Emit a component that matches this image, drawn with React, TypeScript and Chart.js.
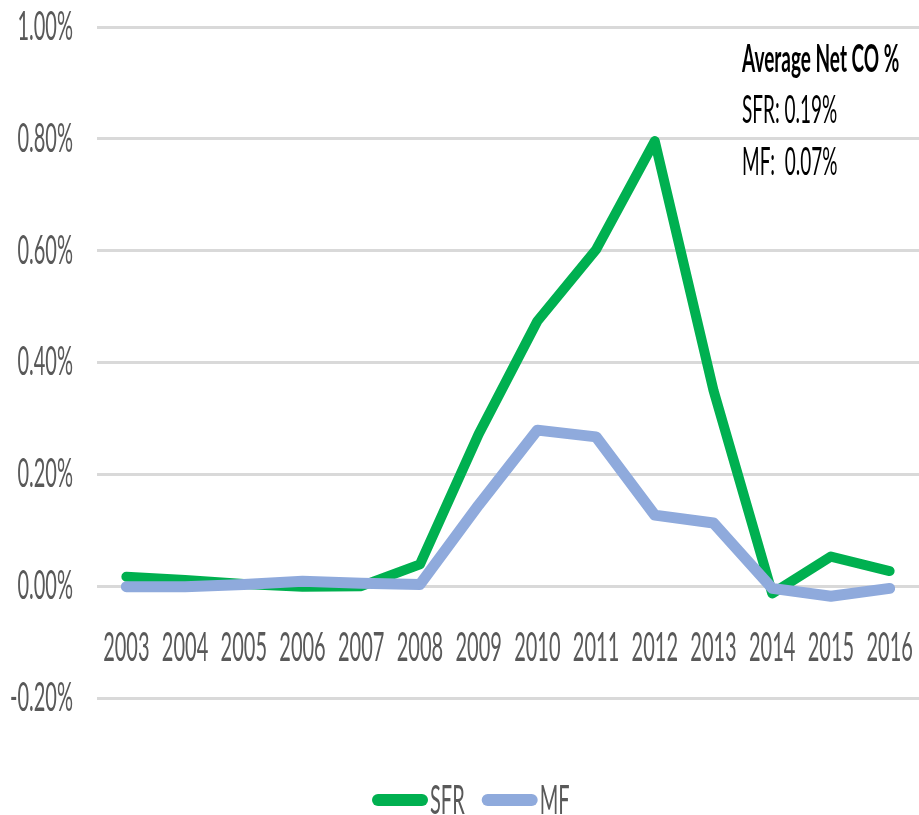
import React, { useEffect, useRef } from 'react';
import { Chart, registerables } from 'chart.js';

Chart.register(...registerables);

const YEARS = ['2003', '2004', '2005', '2006', '2007', '2008', '2009', '2010', '2011', '2012', '2013', '2014', '2015', '2016'];
const SFR_VALUES = [0.017, 0.011, 0.004, -0.001, 0.0, 0.039, 0.272, 0.474, 0.602, 0.796, 0.35, -0.013, 0.053, 0.027];
const MF_VALUES = [-0.001, -0.001, 0.003, 0.009, 0.005, 0.003, 0.145, 0.279, 0.267, 0.127, 0.113, -0.004, -0.018, -0.004];
const SERIES_NAMES = ['SFR', 'MF'];
const Y_MIN = -0.2;
const Y_MAX = 1.0;
const Y_STEP = 0.2;
const NOTE_TITLE = 'Average Net CO %';
const NOTE_LINES = ['SFR: 0.19%', 'MF:  0.07%'];

const TEXT_SQUEEZE = 0.5;
const FONT = 'Lato';
const GREEN = '#00B050';
const BLUE = '#8FAADC';
const GREY_TEXT = '#595959';

function condenseText(ctx: any) {
  const proto: any = CanvasRenderingContext2D.prototype;
  ctx.fillText = function (text: string, x: number, y: number, maxWidth?: number) {
    this.save();
    this.translate(x, y);
    this.scale(TEXT_SQUEEZE, 1);
    if (maxWidth === undefined) proto.fillText.call(this, text, 0, 0);
    else proto.fillText.call(this, text, 0, 0, maxWidth / TEXT_SQUEEZE);
    this.restore();
  };
  ctx.measureText = function (text: string) {
    const m = proto.measureText.call(this, text);
    return {
      width: m.width * TEXT_SQUEEZE,
      actualBoundingBoxAscent: m.actualBoundingBoxAscent,
      actualBoundingBoxDescent: m.actualBoundingBoxDescent,
      actualBoundingBoxLeft: m.actualBoundingBoxLeft * TEXT_SQUEEZE,
      actualBoundingBoxRight: m.actualBoundingBoxRight * TEXT_SQUEEZE,
      fontBoundingBoxAscent: m.fontBoundingBoxAscent,
      fontBoundingBoxDescent: m.fontBoundingBoxDescent,
    };
  };
}

const notesPlugin = {
  id: 'notesAndLegend',
  afterDraw(chart: any) {
    const ctx = chart.ctx;
    ctx.save();
    ctx.textAlign = 'left';
    ctx.textBaseline = 'alphabetic';
    ctx.fillStyle = '#000000';
    ctx.font = `bold 38px ${FONT}`;
    ctx.fillText(NOTE_TITLE, 742, 72);
    ctx.font = `38px ${FONT}`;
    NOTE_LINES.forEach((t, i) => ctx.fillText(t, 742, 123 + i * 52));

    // legend
    let x = 372;
    const y = 800;
    chart.data.datasets.forEach((ds: any) => {
      ctx.strokeStyle = ds.borderColor;
      ctx.lineWidth = 12;
      ctx.lineCap = 'round';
      ctx.beginPath();
      ctx.moveTo(x + 6, y);
      ctx.lineTo(x + 50, y);
      ctx.stroke();
      ctx.font = `40px ${FONT}`;
      ctx.fillStyle = GREY_TEXT;
      ctx.fillText(ds.label, x + 58, 814);
      x += 58 + ctx.measureText(ds.label).width + 17;
    });
    ctx.restore();
  },
};

export default function App() {
  const ref = useRef<HTMLCanvasElement | null>(null);
  useEffect(() => {
    const canvas = ref.current;
    if (!canvas) return;
    const ctx = canvas.getContext('2d');
    condenseText(ctx);
    Chart.defaults.font.family = FONT;
    const chart = new Chart(ctx as any, {
      type: 'line',
      data: {
        labels: YEARS,
        datasets: [
          { label: SERIES_NAMES[0], data: SFR_VALUES, borderColor: GREEN, backgroundColor: GREEN, borderWidth: 10, order: 1 },
          { label: SERIES_NAMES[1], data: MF_VALUES, borderColor: BLUE, backgroundColor: BLUE, borderWidth: 11, order: 0 },
        ],
      },
      options: {
        animation: false,
        responsive: false,
        devicePixelRatio: 1,
        layout: { padding: { top: 27, bottom: 117, left: 0, right: 0 } },
        elements: {
          point: { radius: 0 },
          line: { tension: 0, borderCapStyle: 'round', borderJoinStyle: 'round' },
        },
        plugins: { legend: { display: false }, tooltip: { enabled: false } },
        scales: {
          x: {
            type: 'category',
            position: { y: 0 } as any,
            offset: true,
            grid: { display: false },
            border: { display: false },
            ticks: {
              autoSkip: false,
              maxRotation: 0,
              minRotation: 0,
              padding: 30,
              color: GREY_TEXT,
              font: { family: FONT, size: 40 },
            },
            afterFit: (s: any) => {
              s.height = 0;
              s.paddingLeft = 0;
              s.paddingRight = 0;
              s.paddingTop = 0;
              s.paddingBottom = 0;
            },
          },
          y: {
            min: Y_MIN,
            max: Y_MAX,
            ticks: {
              stepSize: Y_STEP,
              padding: 24,
              color: GREY_TEXT,
              font: { family: FONT, size: 40 },
              callback: (v: any) => {
                const n = Math.abs(Number(v)) < 1e-9 ? 0 : Number(v);
                return n.toFixed(2) + '%';
              },
            },
            grid: { color: '#d9d9d9', lineWidth: 3, drawTicks: false },
            border: { display: false },
            afterFit: (s: any) => {
              s.width = 97;
              s.paddingLeft = 0;
              s.paddingRight = 0;
              s.paddingTop = 0;
              s.paddingBottom = 0;
            },
          },
        },
      },
      plugins: [notesPlugin],
    });
    return () => chart.destroy();
  }, []);
  return (
    <div style={{ position: 'absolute', left: 0, top: 0, width: 919, height: 815, background: '#fff' }}>
      <canvas ref={ref} width={919} height={815} style={{ display: 'block', width: 919, height: 815 }} />
    </div>
  );
}
